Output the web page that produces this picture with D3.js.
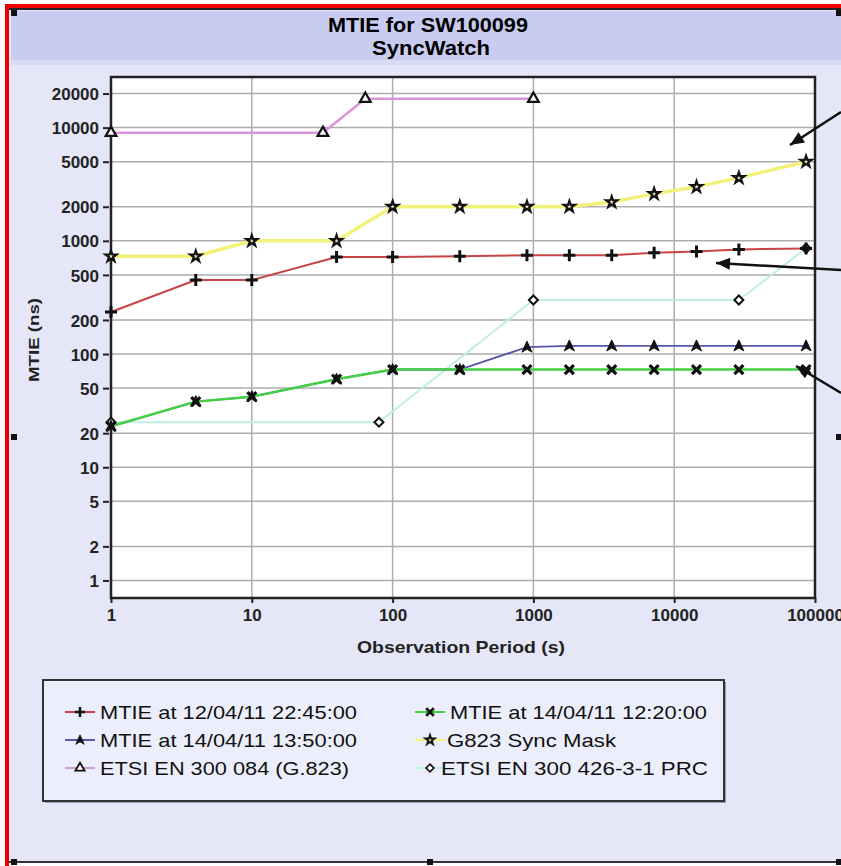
<!DOCTYPE html>
<html><head><meta charset="utf-8">
<script src="https://cdn.jsdelivr.net/npm/d3@7"></script>
<style>html,body{margin:0;padding:0;background:#fff;}svg{display:block;font-family:"Liberation Sans",Arial,sans-serif;}</style>
</head><body>
<svg id="c" width="841" height="866"></svg>
<script>
// ---- data ----
const xTicks = [1, 10, 100, 1000, 10000, 100000];
const yTicks = [1, 2, 5, 10, 20, 50, 100, 200, 500, 1000, 2000, 5000, 10000, 20000];
const periods = [1, 4, 10, 40, 100, 300, 900, 1800, 3600, 7200, 14400, 28800, 86400];
const mtie2245 = [235, 450, 450, 720, 720, 730, 745, 745, 745, 785, 805, 840, 857];
const mtie1350 = [23, 38, 42, 60, 73, 73, 115, 118, 118, 118, 118, 118, 118];
const mtie1220 = [23, 38, 42, 60, 73, 73, 73, 73, 73, 73, 73, 73, 73];
const g823Mask = [730, 730, 1000, 1000, 2000, 2000, 2000, 2000, 2200, 2600, 3000, 3600, 5000];
const etsi084X = [1, 32, 64, 1000];
const etsi084Y = [9000, 9000, 18000, 18000];
const prcX = [1, 80, 1000, 28800, 86400];
const prcY = [25, 25, 300, 300, 860];
const legendLabels = ["MTIE at 12/04/11 22:45:00", "MTIE at 14/04/11 13:50:00", "ETSI EN 300 084 (G.823)",
                      "MTIE at 14/04/11 12:20:00", "G823 Sync Mask", "ETSI EN 300 426-3-1 PRC"];

const svg = d3.select("#c");
// background
svg.append("rect").attr("x",0).attr("y",0).attr("width",841).attr("height",866).attr("fill","#ffffff");
svg.append("rect").attr("x",8).attr("y",8).attr("width",833).attr("height",854).attr("fill","#e5e7f8");
svg.append("rect").attr("x",11).attr("y",11).attr("width",830).attr("height",49).attr("fill","#c9ccf1");
svg.append("rect").attr("x",11).attr("y",60).attr("width",830).attr("height",5).attr("fill","#d9dbf5");
// red frame and black lines
svg.append("rect").attr("x",5).attr("y",4).attr("width",4).attr("height",862).attr("fill","#ee0000");
svg.append("rect").attr("x",5).attr("y",4).attr("width",836).attr("height",4).attr("fill","#ee0000");
svg.append("rect").attr("x",9).attr("y",8).attr("width",832).attr("height",2).attr("fill","#222");
svg.append("rect").attr("x",9).attr("y",861).attr("width",832).attr("height",2).attr("fill","#333");
// handles
[[11,10],[836,10],[11,434],[836,434],[11,859],[427,859],[836,859]].forEach(p=>{
  svg.append("rect").attr("x",p[0]).attr("y",p[1]).attr("width",6).attr("height",6).attr("fill","#111");
});

// title
svg.append("text").attr("x",428).attr("y",32).attr("text-anchor","middle").attr("font-size",20).attr("font-weight","bold")
  .attr("textLength",200).attr("lengthAdjust","spacingAndGlyphs").text("MTIE for SW100099");
svg.append("text").attr("x",431).attr("y",55).attr("text-anchor","middle").attr("font-size",20).attr("font-weight","bold")
  .attr("textLength",118).attr("lengthAdjust","spacingAndGlyphs").text("SyncWatch");

// scales
const x = d3.scaleLog().domain([1, 100000]).range([111, 815]);
const y = d3.scaleLog().domain([0.7, 28000]).range([598, 77]);
const [x0,x1] = x.range(), [y0,y1] = y.range();

// plot bg
svg.append("rect").attr("x",x0).attr("y",y1).attr("width",x1-x0).attr("height",y0-y1).attr("fill","#fff");
// grid
const g = svg.append("g");
g.selectAll("line.h").data(yTicks).join("line").attr("x1",x0).attr("x2",x1)
  .attr("y1",d=>y(d)).attr("y2",d=>y(d)).attr("stroke","#adadad").attr("stroke-width",1.5);
g.selectAll("line.v").data(xTicks.slice(1,-1)).join("line").attr("y1",y1).attr("y2",y0)
  .attr("x1",d=>x(d)).attr("x2",d=>x(d)).attr("stroke","#adadad").attr("stroke-width",1.5);

// axes
const yAxis = d3.axisLeft(y).tickValues(yTicks).tickFormat(d3.format("d")).tickSize(6).tickPadding(4);
const ya = svg.append("g").attr("transform",`translate(${x0-2},0)`).call(yAxis);
const xAxis = d3.axisBottom(x).tickValues(xTicks).tickFormat(d3.format("d")).tickSize(5).tickPadding(6);
const xa = svg.append("g").attr("transform",`translate(0,${y0})`).call(xAxis);
[ya,xa].forEach(a=>{
  a.select(".domain").remove();
  a.selectAll(".tick line").attr("stroke","#222").attr("stroke-width",2);
  a.selectAll(".tick text").attr("font-size",17).attr("font-weight","bold").attr("fill","#222")
    .attr("font-family","'Liberation Sans',Arial,sans-serif");
});
ya.selectAll(".tick text").attr("dy","0.36em");

// plot frame
svg.append("rect").attr("x",x0).attr("y",y1).attr("width",x1-x0).attr("height",y0-y1)
  .attr("fill","none").attr("stroke","#222").attr("stroke-width",2.5);

// axis titles
svg.append("text").attr("x",461).attr("y",653).attr("text-anchor","middle").attr("font-size",17).attr("font-weight","bold")
  .attr("fill","#222").attr("textLength",208).attr("lengthAdjust","spacingAndGlyphs").text("Observation Period (s)");
svg.append("text").attr("transform","translate(39,340) rotate(-90)").attr("text-anchor","middle").attr("font-size",15)
  .attr("font-weight","bold").attr("fill","#222").attr("textLength",84).attr("lengthAdjust","spacingAndGlyphs").text("MTIE (ns)");

// markers
const sym = {
  plus: "M-6,0L6,0M0,-6L0,6",
  cross: "M-4.5,-4.5L4.5,4.5M4.5,-4.5L-4.5,4.5",
  arrow: "M0,-6L5,5L0,2L-5,5Z",
  tri: d3.symbol(d3.symbolTriangle, 50)(),
  star: d3.symbol(d3.symbolStar, 38)(),
  diamond: "M0,-4.5L4.5,0L0,4.5L-4.5,0Z"
};
const markerStyle = {
  plus: {fill:"none", stroke:"#111", sw:3},
  cross: {fill:"none", stroke:"#111", sw:3.2},
  arrow: {fill:"#111", stroke:"#111", sw:1},
  tri: {fill:"#fff", stroke:"#111", sw:2.2},
  star: {fill:"#f4eec0", stroke:"#111", sw:2.2},
  diamond: {fill:"#fff", stroke:"#111", sw:2}
};

const series = [
  {xs: prcX, ys: prcY, color:"#bfeee6", w:2, m:"diamond"},
  {xs: etsi084X, ys: etsi084Y, color:"#d995d9", w:2.5, m:"tri"},
  {xs: periods, ys: g823Mask, color:"#f2f27a", w:3.5, m:"star"},
  {xs: periods, ys: mtie1350, color:"#5656aa", w:1.8, m:"arrow"},
  {xs: periods, ys: mtie1220, color:"#44d044", w:2.5, m:"cross"},
  {xs: periods, ys: mtie2245, color:"#c84444", w:2, m:"plus"}
];
const line = d3.line().x(d=>x(d[0])).y(d=>y(d[1]));
series.forEach(s=>{
  const pts = s.xs.map((v,i)=>[v, s.ys[i]]);
  svg.append("path").datum(pts).attr("d",line).attr("fill","none").attr("stroke",s.color).attr("stroke-width",s.w);
});
series.forEach(s=>{
  const pts = s.xs.map((v,i)=>[v, s.ys[i]]);
  const st = markerStyle[s.m];
  svg.append("g").selectAll("path").data(pts).join("path")
    .attr("transform",d=>`translate(${x(d[0])},${y(d[1])})`).attr("d",sym[s.m])
    .attr("fill",st.fill).attr("stroke",st.stroke).attr("stroke-width",st.sw);
});

// annotation arrows
function arrow(xa_, ya_, xb, yb){
  svg.append("line").attr("x1",xa_).attr("y1",ya_).attr("x2",xb).attr("y2",yb).attr("stroke","#111").attr("stroke-width",2.5);
  const ang = Math.atan2(yb-ya_, xb-xa_);
  const L=14, W=6;
  const bx = xb - L*Math.cos(ang), by = yb - L*Math.sin(ang);
  const px = -Math.sin(ang)*W, py = Math.cos(ang)*W;
  svg.append("path").attr("d",`M${xb},${yb}L${bx+px},${by+py}L${bx-px},${by-py}Z`).attr("fill","#111");
}
arrow(841,112, 790,145);
arrow(841,270, 716,263);
arrow(841,393, 796,366);

// legend
svg.append("rect").attr("x",45).attr("y",682).attr("width",681).attr("height",121).attr("fill","#9a9cb0");
svg.append("rect").attr("x",43).attr("y",680).attr("width",681).attr("height",121).attr("fill","#eceefb")
  .attr("stroke","#333").attr("stroke-width",2);
const legOrder = [5,3,1,4,2,0]; // series index for each label
const legCols = [{lx:65, mx:80, tx:[100,100,100]},{lx:415, mx:430, tx:[450,447,441]}];
const legW = [257,257,249,257,169,267];
legendLabels.forEach((lab,i)=>{
  const col = Math.floor(i/3), row = i%3;
  const s = series[legOrder[i]];
  const cy = 712 + row*28;
  const c = legCols[col];
  svg.append("line").attr("x1",c.lx).attr("x2",c.lx+30).attr("y1",cy).attr("y2",cy).attr("stroke",s.color).attr("stroke-width",2);
  const st = markerStyle[s.m];
  svg.append("path").attr("transform",`translate(${c.mx},${cy}) scale(0.85)`).attr("d",sym[s.m])
    .attr("fill",st.fill).attr("stroke",st.stroke).attr("stroke-width",st.sw);
  svg.append("text").attr("x",c.tx[row]).attr("y",cy+7).attr("font-size",19).attr("fill","#111")
    .attr("textLength",legW[i]).attr("lengthAdjust","spacingAndGlyphs").text(lab);
});
</script>
</body></html>
